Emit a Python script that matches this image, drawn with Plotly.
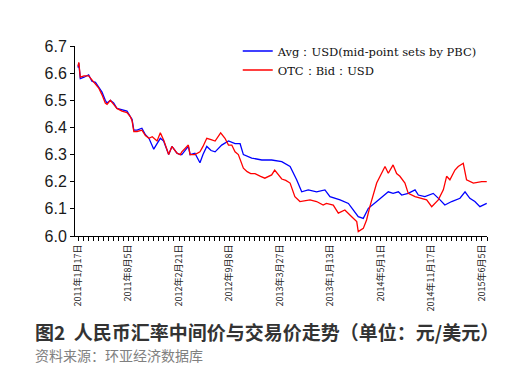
import datetime as dt
import plotly.graph_objects as go

START = dt.date(2011, 1, 17)

# days since 2011-01-17 and values
avg_days = [0, 3, 9, 24, 42, 55, 69, 82, 95, 108, 115, 128, 141, 154, 174, 194, 207, 214, 221, 234,
            253, 267, 281, 300, 313, 326, 339, 359, 372, 392, 405, 411, 437, 444, 463, 483, 495, 510,
            527, 543, 569, 596, 622, 642, 655, 688, 728, 767, 807, 840, 866, 886, 912, 945, 978, 998,
            1038, 1071, 1090, 1110, 1130, 1150, 1183, 1229, 1248, 1269, 1282, 1308, 1335, 1348, 1374,
            1407, 1434, 1453, 1480, 1513, 1533, 1552, 1572, 1592, 1619]
avg_vals = [6.62, 6.637, 6.58, 6.585, 6.594, 6.57, 6.566, 6.55, 6.53, 6.50, 6.49, 6.50, 6.49, 6.47,
            6.465, 6.46, 6.44, 6.43, 6.39, 6.39, 6.397, 6.373, 6.36, 6.32, 6.34, 6.36, 6.35, 6.30,
            6.33, 6.305, 6.30, 6.30, 6.33, 6.30, 6.305, 6.27, 6.30, 6.33, 6.315, 6.31, 6.335, 6.35,
            6.34, 6.34, 6.30, 6.287, 6.28, 6.28, 6.274, 6.256, 6.207, 6.163, 6.17, 6.163, 6.17, 6.145,
            6.133, 6.12, 6.096, 6.071, 6.065, 6.102, 6.127, 6.163, 6.157, 6.163, 6.151, 6.157, 6.17,
            6.151, 6.145, 6.157, 6.133, 6.114, 6.127, 6.139, 6.163, 6.139, 6.127, 6.108, 6.12]

otc_days = [0, 3, 9, 24, 42, 55, 69, 82, 95, 108, 115, 128, 141, 154, 174, 194, 207, 214, 221, 234,
            253, 267, 281, 294, 313, 326, 339, 359, 372, 392, 405, 411, 437, 444, 463, 483, 495, 510,
            527, 543, 565, 582, 596, 609, 622, 635, 655, 670, 684, 701, 723, 740, 767, 779, 807, 823,
            840, 859, 879, 919, 945, 971, 984, 1011, 1031, 1057, 1084, 1104, 1110, 1130, 1143, 1156,
            1183, 1196, 1216, 1229, 1248, 1262, 1275, 1295, 1308, 1335, 1361, 1381, 1401, 1427, 1447,
            1460, 1473, 1493, 1506, 1526, 1539, 1566, 1599, 1619]
otc_vals = [6.625, 6.64, 6.585, 6.59, 6.59, 6.575, 6.56, 6.545, 6.52, 6.49, 6.485, 6.50, 6.485, 6.47,
            6.46, 6.455, 6.44, 6.425, 6.385, 6.385, 6.39, 6.37, 6.36, 6.366, 6.35, 6.38, 6.354, 6.30,
            6.33, 6.305, 6.30, 6.31, 6.335, 6.30, 6.30, 6.31, 6.33, 6.36, 6.355, 6.35, 6.38, 6.36,
            6.335, 6.335, 6.31, 6.30, 6.25, 6.237, 6.23, 6.23, 6.22, 6.213, 6.225, 6.243, 6.21, 6.205,
            6.195, 6.145, 6.127, 6.133, 6.127, 6.114, 6.12, 6.114, 6.084, 6.096, 6.071, 6.053, 6.016,
            6.028, 6.059, 6.108, 6.195, 6.22, 6.256, 6.231, 6.262, 6.23, 6.22, 6.195, 6.157, 6.145,
            6.139, 6.133, 6.108, 6.133, 6.17, 6.22, 6.207, 6.243, 6.256, 6.268, 6.207, 6.195, 6.20, 6.20]

tick_days = [0, 200, 400, 600, 800, 1000, 1200, 1400, 1600]
tick_labels = ["2011年1月17日", "2011年8月5日", "2012年2月21日", "2012年9月8日", "2013年3月27日",
               "2013年1月13日", "2014年5月1日", "2014年11月17日", "2015年6月5日"]
y_ticks = [6.0, 6.1, 6.2, 6.3, 6.4, 6.5, 6.6, 6.7]

series_names = ["Avg：USD(mid-point sets by PBC)", "OTC：Bid：USD"]


def to_dates(days):
    return [(START + dt.timedelta(days=d)).isoformat() for d in days]


fig = go.Figure()
fig.add_trace(go.Scatter(x=to_dates(avg_days), y=avg_vals, mode="lines", name=series_names[0],
                         line=dict(color="#0000ff", width=1.3)))
fig.add_trace(go.Scatter(x=to_dates(otc_days), y=otc_vals, mode="lines", name=series_names[1],
                         line=dict(color="#ff0000", width=1.3)))

# page body has an 8px default margin, so the figure is sized to fit the 532x375 window
fig.update_layout(
    width=524, height=367,
    margin=dict(l=67, r=45, t=38, b=139, autoexpand=False),
    paper_bgcolor="white", plot_bgcolor="white",
    font=dict(family="Liberation Sans, Arial, sans-serif", color="#1a1a1a"),
    showlegend=True,
    legend=dict(x=0.395, y=1.05, xanchor="left", yanchor="top", bgcolor="rgba(0,0,0,0)",
                font=dict(family="DejaVu Serif, serif", size=11.5, color="#111"),
                itemwidth=30, tracegroupgap=0),
    xaxis=dict(
        type="date",
        range=[(START - dt.timedelta(days=12)).isoformat(), (START + dt.timedelta(days=1620)).isoformat()],
        tickmode="array", tickvals=to_dates(tick_days), ticktext=tick_labels,
        tickangle=-90, tickfont=dict(size=9, family="Noto Sans CJK SC, sans-serif", color="#222"),
        showline=True, linecolor="black", linewidth=1,
        ticks="outside", ticklen=4, tickcolor="black",
        minor=dict(dtick=20 * 86400000, tick0=START.isoformat(), ticks="outside", ticklen=4,
                   tickcolor="black", showgrid=False),
        showgrid=False, zeroline=False,
    ),
    yaxis=dict(
        range=[6.0, 6.7], tickmode="array", tickvals=y_ticks, tickformat=".1f",
        tickfont=dict(size=16, family="Liberation Sans, Arial, sans-serif", color="#1a1a1a"),
        showline=True, linecolor="black", linewidth=1,
        ticks="outside", ticklen=4, tickcolor="black",
        showgrid=False, zeroline=False,
    ),
)

fig.add_annotation(text="<b>图2  人民币汇率中间价与交易价走势（单位：元/美元）</b>",
                   xref="paper", yref="paper", x=-0.102, y=-0.505, xanchor="left", yanchor="middle",
                   showarrow=False, font=dict(size=19, family="Noto Sans CJK SC", color="#333"))
fig.add_annotation(text="资料来源：环亚经济数据库",
                   xref="paper", yref="paper", x=-0.102, y=-0.626, xanchor="left", yanchor="middle",
                   showarrow=False, font=dict(size=14, family="Noto Sans CJK SC", color="#808080"))

fig.write_html("out.html")
